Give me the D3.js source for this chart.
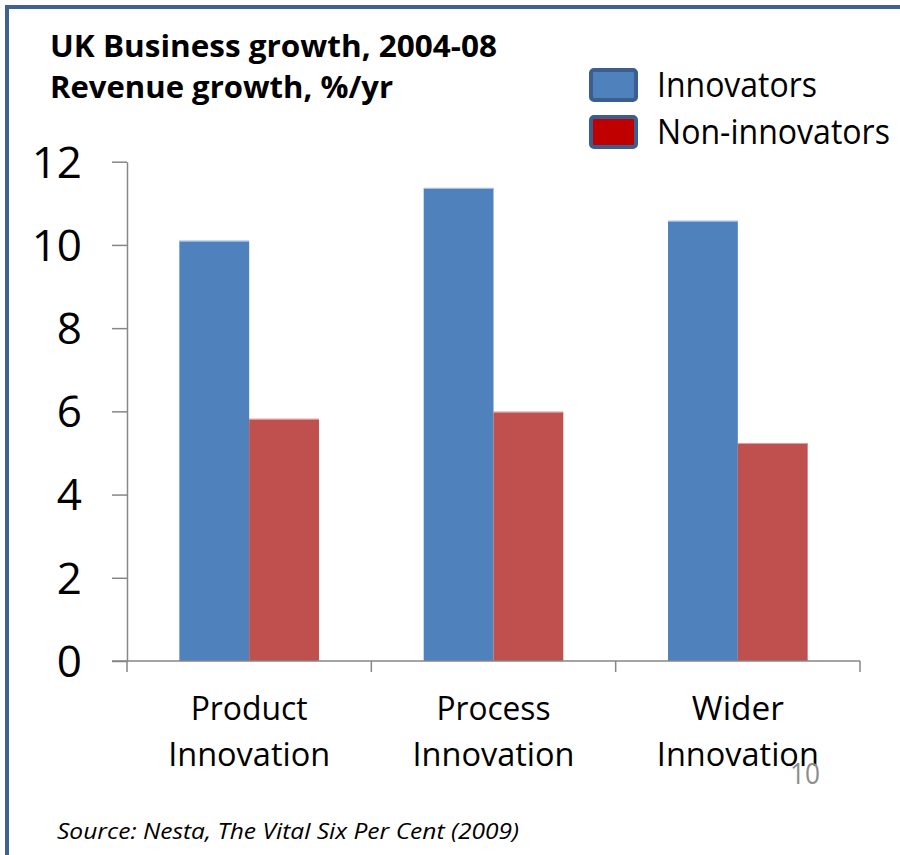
<!DOCTYPE html>
<html><head><meta charset="utf-8">
<script src="https://cdn.jsdelivr.net/npm/d3@7"></script>
<style>body{margin:0;background:#fff}svg{display:block}text{font-family:"Open Sans","Liberation Sans",sans-serif}</style>
</head><body>
<script>
const categories = [["Product","Innovation"],["Process","Innovation"],["Wider","Innovation"]];
const seriesNames = ["Innovators","Non-innovators"];
const innovators = [10.1, 11.37, 10.58];
const nonInnovators = [5.82, 5.99, 5.24];
const yTicks = [0,2,4,6,8,10,12];
const title = ["UK Business growth, 2004-08","Revenue growth, %/yr"];
const source = "Source: Nesta, The Vital Six Per Cent (2009)";

const W=900,H=855;
const svg=d3.select("body").append("svg").attr("width",W).attr("height",H);
svg.append("rect").attr("width",W).attr("height",H).attr("fill","#fff");
// frame
svg.append("path").attr("d","M7,"+(H+10)+"V7H"+(W+10)).attr("fill","none").attr("stroke","#3e6294").attr("stroke-width",4);

const x0=127,x1=860,yTop=161.7,yBot=661;
const x=d3.scaleBand().domain(d3.range(categories.length)).range([x0,x1]).padding(0);
const y=d3.scaleLinear().domain([0,12]).range([yBot,yTop]);
const bw=x.bandwidth()/3.5;
const colors=["#4f81bd","#c0504d"];
const series=[innovators,nonInnovators];

series.forEach((vals,si)=>{
  svg.append("g").selectAll("rect").data(vals).join("rect")
    .attr("x",(d,i)=>x(i)+x.bandwidth()/2-bw+si*bw)
    .attr("y",d=>y(d)).attr("width",bw).attr("height",d=>y(0)-y(d))
    .attr("fill",colors[si]);
  svg.append("g").selectAll("line").data(vals).join("line")
    .attr("x1",(d,i)=>x(i)+x.bandwidth()/2-bw+si*bw).attr("x2",(d,i)=>x(i)+x.bandwidth()/2+si*bw)
    .attr("y1",d=>y(d)+0.5).attr("y2",d=>y(d)+0.5)
    .attr("stroke",si?"#dba3a2":"#a9c4e8").attr("stroke-width",1);
});

// y axis
const ya=svg.append("g").attr("transform",`translate(${x0},0)`)
  .call(d3.axisLeft(y).tickValues(yTicks).tickSize(15).tickSizeOuter(0).tickPadding(30));
ya.select(".domain").attr("stroke","#868686").attr("stroke-width",1.5);
ya.selectAll(".tick line").attr("stroke","#868686").attr("stroke-width",1.5);
ya.selectAll(".tick text").attr("font-size",44).attr("fill","#000").attr("font-family","Open Sans").attr("dy","0.35em").attr("x",-45);

// x axis
const xa=svg.append("g").attr("transform",`translate(0,${yBot})`);
xa.append("line").attr("x1",112).attr("x2",x1).attr("stroke","#868686").attr("stroke-width",1.5);
xa.selectAll("line.t").data(d3.range(categories.length+1)).join("line").attr("class","t")
  .attr("x1",i=>i<categories.length?x(i):x1).attr("x2",i=>i<categories.length?x(i):x1)
  .attr("y1",0).attr("y2",11).attr("stroke","#868686").attr("stroke-width",1.5);
const lblW=[[117,162],[114,162],[92,162]];
categories.forEach((c,i)=>{
  c.forEach((t,j)=>{
    svg.append("text").attr("x",x(i)+x.bandwidth()/2).attr("y",yBot+59+j*46)
      .attr("text-anchor","middle").attr("font-size",32)
      .attr("textLength",lblW[i][j]).attr("lengthAdjust","spacingAndGlyphs").text(t);
  });
});

// titles
svg.append("text").attr("x",50).attr("y",57).attr("font-size",30).attr("font-weight","bold")
  .attr("textLength",447).attr("lengthAdjust","spacingAndGlyphs").text(title[0]);
svg.append("text").attr("x",50).attr("y",98).attr("font-size",30).attr("font-weight","bold")
  .attr("textLength",343).attr("lengthAdjust","spacingAndGlyphs").text(title[1]);

// legend
const lg=[["#4f81bd",70],["#c00000",117]];
const lgW=[160,233];
seriesNames.forEach((n,i)=>{
  svg.append("rect").attr("x",591).attr("y",lg[i][1]).attr("width",45).attr("height",30).attr("rx",3)
    .attr("fill",lg[i][0]).attr("stroke","#3b5e8e").attr("stroke-width",4);
  svg.append("text").attr("x",657).attr("y",lg[i][1]+27).attr("font-size",34)
    .attr("textLength",lgW[i]).attr("lengthAdjust","spacingAndGlyphs").text(n);
});

// page number
svg.append("text").attr("x",790).attr("y",784).attr("font-size",30).attr("fill","#8c8c8c")
  .attr("textLength",30).attr("lengthAdjust","spacingAndGlyphs").text("10");
// source
svg.append("text").attr("x",57).attr("y",839).attr("font-size",21).attr("font-style","italic")
  .attr("textLength",462).attr("lengthAdjust","spacingAndGlyphs").text(source);
</script>
</body></html>
